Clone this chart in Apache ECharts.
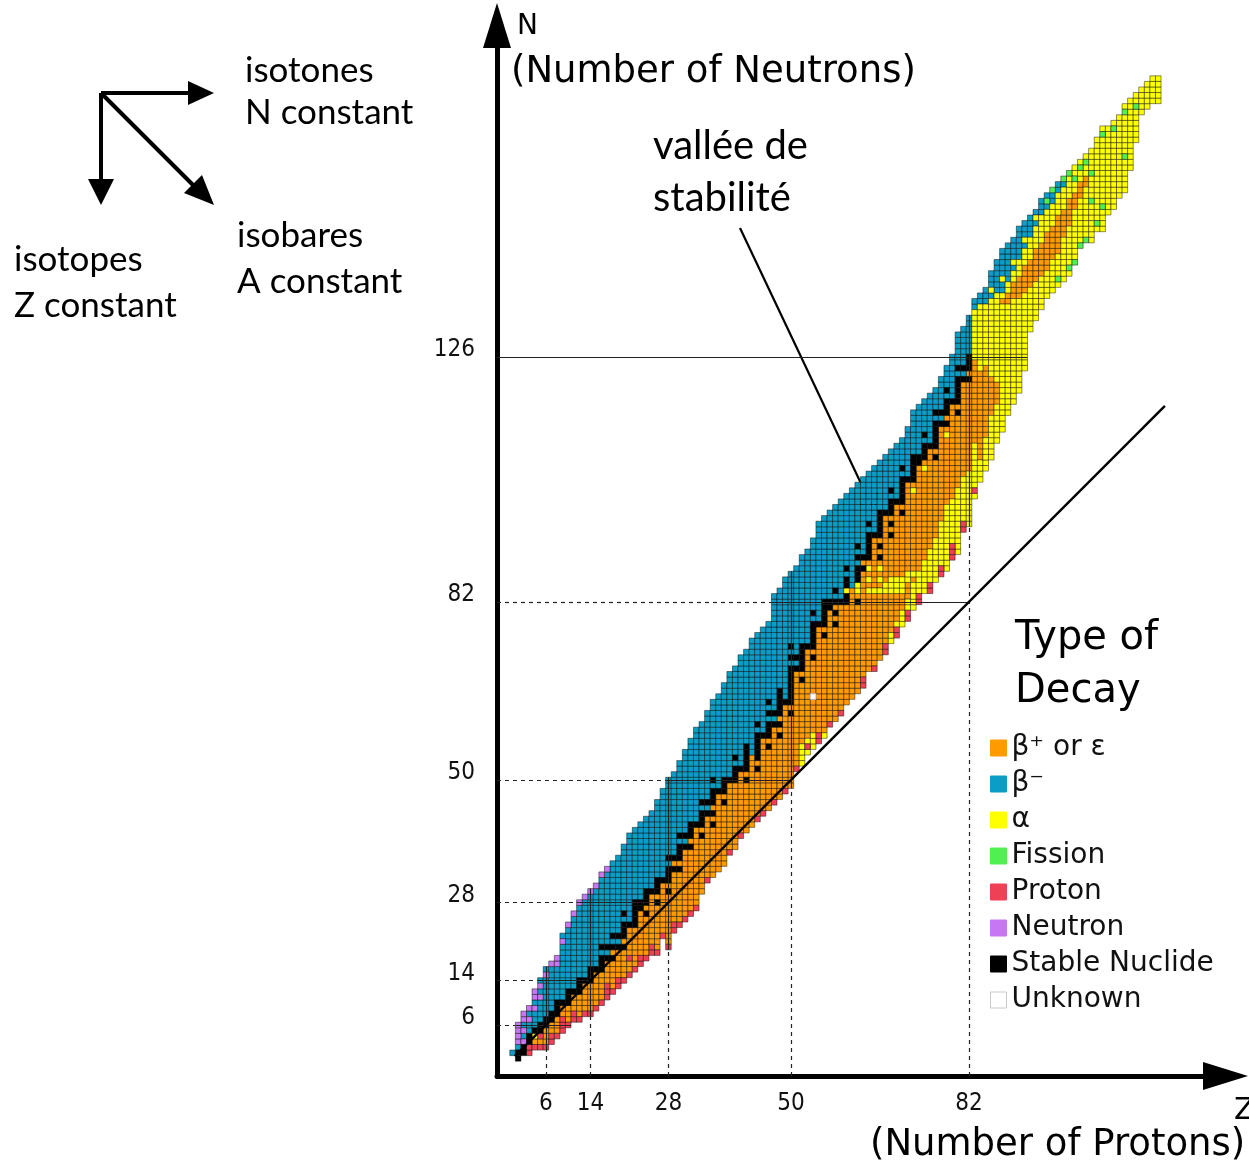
<!DOCTYPE html>
<html>
<head>
<meta charset="utf-8">
<title>Chart of nuclides - type of decay</title>
<script src="https://cdn.jsdelivr.net/npm/echarts@6/dist/echarts.min.js"></script>
<style>
  html, body { margin: 0; padding: 0; background: #fff; }
  #chart { width: 1249px; height: 1162px; }
</style>
</head>
<body>
<div id="chart"></div>
<script>
// tick labels on both axes
const zTicks = [6, 14, 28, 50, 82];
const nTicks = [6, 14, 28, 50, 82, 126];

// decay types, legend order
const decayKeys = ['e', 'b', 'a', 'f', 'p', 'n', 's', 'u'];
const decayNames = ['β⁺ or ε', 'β⁻', 'α', 'Fission', 'Proton', 'Neutron', 'Stable Nuclide', 'Unknown'];

// lowest N drawn for each Z (index = Z)
const firstNeutron = [
  1, 0, 1, 1, 2, 2, 2, 3, 4, 5, 6, 7, 7, 8, 8, 9, 10, 11, 12, 13,
  14, 15, 16, 17, 18, 19, 19, 22, 20, 23, 24, 25, 26, 27, 30, 32, 33, 34, 35, 37,
  38, 40, 41, 42, 43, 44, 45, 46, 47, 48, 49, 52, 53, 55, 56, 57, 58, 60, 61, 62,
  64, 65, 66, 67, 70, 70, 72, 73, 75, 76, 78, 79, 81, 82, 84, 84, 86, 87, 88, 90,
  91, 95, 96, 101, 104, 106, 108, 111, 113, 116, 118, 120, 124, 131, 133, 135, 137, 138, 139, 140,
  141, 143, 146, 147, 147, 149, 149, 152, 153, 155, 156, 160, 165, 170, 171, 172, 172
];

// runs of decay type going up in N from firstNeutron (letter + count)
const decayRunsLight = [ // Z 0-39
  'b1', 's2b1n4', 's2n1b1n1b1n2', 'p2s2b2n1b1n1', 'p1e1a1s1b3n1b1n2',
  'p1e1p1s2b4n1b1n1b1', 'p1e3s2b7n1b1', 'p2e2s2b8n1', 'p1e3s3b6n2', 'p3e2s1b10n1b1',
  'p1e3s3b11n1', 'p2e3s1b13n1', 'p1e4s3b13n1', 'p1e5s1b14n1', 'p1e5s3b13n1',
  'p1e6s1b14n1', 'p1e5s3b1s1b12n1', 'p3e4s1b1s1b13n1', 'p1e5s1e1s1b1s1b13', 'p2e5s1b1s1b14',
  'p1e5s1e1s3b1s1b12', 'p1e2p1e5s1b16', 'p1e7s5b13', 'p2e8s2b14', 'p1e7s1e1s3b13',
  'p2e9s1b14', 'p1e8s1e1s3b14', 'p1e9s1b16', 'p1e9s1e1s3b1s1b14', 'p2e9s1e1s1b15',
  'p1e9s1e1s3b1s1b13', 'p1e12s1b1s1b15', 'p1e11s1e1s3b15', 'p1e14s1b17', 'e10s1e1s3b1s1b14',
  'p1e11s1b1s1b16', 'e9s1e1s1e1s3b1s1b14', 'e14s1b17', 'e11s1e1s3b17', 'p1e12s1b19'
];
const decayRunsMedium = [ // Z 40-79
  'e12s3b1s1b16', 'p1e11s1b20', 'e9s1e1s5b17', 'e13b21', 'p1e8s1e1s5b1s1b16',
  'p1e13s1b19', 'e11s1e1s3b1s1b1s1b14', 'p1e13s1b1s1b21', 'e11s1e1s1e1s5b18', 'p1e15s1b22',
  'e13s1e1s7b1s1b1s1b13', 'p1e17s1b1s1b16', 'a4e11s1e1s5b16', 'a1p1a1e16s1b17', 'a3e13s1e1s5b1s1b13',
  'p2e19s1b18', 'a1e17s1e1s5b15', 'p1e20s2b16', 'e17s1e1s1e1s1b1s1b15', 'p1e19s1b18',
  'e18s2a1s2b1s1b13', 'e20b18', 'e16s1e1a2s3b1s1b1s1b11', 'p2e19s1e1s1b14', 'e14a1e1a1e1a1e1s5b1s1b9',
  'p1e13a1e9s1b12', 'e12a1e1a1e1a1e1s1e1s1e1s5b9', 'p2e9a2e12s1b10', 'a2e7a3e7s1e1s1e1s3b1s1b7', 'p2a1e5a3e13s1b10',
  'a3e3a3e11s1e1s5b1s1b5', 'p2a2e3a2e16s1b9', 'a5e1a1e14a1e1s5b8', 'p2a4e19s2b9', 'a6e16a1e1s3b1s1b6',
  'p2a6e18s1b9', 'a8e14s1e1s5b1s1b4', 'p2a8e17s1b1s1b6', 'a12e12a1e1s1e1s3b1s1b4', 'p3a8e17s1b8'
];
const decayRunsHeavy = [ // Z 80-116
  'a12e13s1e1s5b1s1b6', 'p2a8e17s1b1s1b7', 'a10e16s1e1s3b7', 'a1p1a8e15a9b2', 'a4e16a11b3',
  'a6e13a11b3', 'a8e7a14b5', 'a7e4a16b6', 'a23e1a1b8', 'a20e2a2b7',
  'a19e3a2b6', 'a17e4a3b6', 'a14e5a3b5', 'a8e5a4b4', 'a7e6a4b3',
  'a6e6a5b3', 'a5e7a4b3', 'a6e6a4b3', 'a6e7a4b2', 'a8e5a4b2',
  'a9e5a4b1', 'a10e3a5', 'a9e3a4', 'a10e2a4', 'a12e1a4',
  'a17', 'a19', 'a16', 'a16', 'a15', 'a16', 'a13', 'a9', 'a5', 'a5', 'a5', 'a5'
];

// single cells that break the runs [Z, N]
const fissionCells = [
  [96, 154], [97, 156], [98, 140], [99, 158], [100, 142], [100, 159], [101, 143], [101, 158],
  [102, 146], [102, 160], [103, 147], [103, 161], [104, 154], [104, 159], [105, 150], [106, 153],
  [106, 166], [108, 167], [110, 162], [110, 170], [112, 171]
];
const alphaSpecks = [[84, 135], [86, 138], [88, 140], [90, 143], [92, 147], [94, 151]];
const unknownCells = [[54, 65]];

// magic number guide lines: [value, end of dashed part, end of solid part]
const nMagicLines = [[6, 0.5, 10.5], [14, 4.5, 14], [28, 11.5, 28], [50, 27.5, 50], [82, 46.5, 82], [126, -2.8, 92.5]];
const zMagicLines = [[6, 1.5, 16.5], [14, 7.5, 30.5], [28, 19.5, 50.5], [50, 48.5, 87.5], [82, 95.5, 133.5]];
const diagonalNZ = [0.4, 117.2];

const X_MIN = -2.8, X_MAX = 128.08, Y_MIN = -3.16, Y_MAX = 185.54;

const palette = {
  e: '#ff9a00', b: '#0a9ec7', a: '#ffff00', f: '#50f050',
  p: '#ef4055', n: '#c877f2', s: '#000000', u: '#ffffff'
};

// expand the runs into cells
const override = new Map();
fissionCells.forEach(([z, n]) => override.set(z + ':' + n, 'f'));
alphaSpecks.forEach(([z, n]) => override.set(z + ':' + n, 'a'));
unknownCells.forEach(([z, n]) => override.set(z + ':' + n, 'u'));

const cells = {};
decayKeys.forEach(k => { cells[k] = []; });
const decayRuns = decayRunsLight.concat(decayRunsMedium, decayRunsHeavy);
decayRuns.forEach((runs, z) => {
  let n = firstNeutron[z];
  runs.match(/[a-z]\d+/g).forEach(tok => {
    const type = tok[0];
    const count = parseInt(tok.slice(1), 10);
    for (let i = 0; i < count; i++, n++) {
      const k = override.get(z + ':' + n) || type;
      cells[k].push([z, n]);
    }
  });
});

const dashedSegs = [], solidSegs = [];
nMagicLines.forEach(([n, dashTo, solidTo]) => {
  if (dashTo > X_MIN) dashedSegs.push({ coords: [[X_MIN, n], [dashTo, n]] });
  solidSegs.push({ coords: [[dashTo, n], [solidTo, n]] });
});
zMagicLines.forEach(([z, dashTo, solidTo]) => {
  dashedSegs.push({ coords: [[z, Y_MIN], [z, dashTo]] });
  solidSegs.push({ coords: [[z, dashTo], [z, solidTo]] });
});

const chart = echarts.init(document.getElementById('chart'));

const cellSeries = decayKeys.map((k, i) => ({
  name: decayNames[i],
  type: 'custom',
  coordinateSystem: 'cartesian2d',
  data: cells[k],
  encode: { x: 0, y: 1 },
  silent: true,
  progressive: 0,
  itemStyle: { color: palette[k] },
  renderItem: function (params, api) {
    const p = api.coord([api.value(0) - 0.5, api.value(1) + 0.5]);
    const s = api.size([1, 1]);
    return {
      type: 'rect',
      shape: { x: p[0], y: p[1], width: s[0], height: s[1] },
      style: { fill: palette[k], stroke: k === 'u' ? '#bbbbbb' : 'rgba(0,0,0,0.5)', lineWidth: 0.9 }
    };
  }
}));

const labelFont = '"DejaVu Sans Condensed", "Liberation Sans Narrow", "DejaVu Sans", sans-serif';
const textFont = 'DejaVu Sans';
const noteFont = 'Lato';

function txt(x, y, text, size, family) {
  return {
    type: 'text', x: x, y: y, silent: true,
    style: { text: text, fontSize: size, fontFamily: family, fill: '#000', align: 'left', verticalAlign: 'middle' }
  };
}
function seg(x1, y1, x2, y2, w) {
  return { type: 'line', silent: true, shape: { x1: x1, y1: y1, x2: x2, y2: y2 }, style: { stroke: '#000', lineWidth: w } };
}
function tri(points) {
  return { type: 'polygon', silent: true, shape: { points: points }, style: { fill: '#000' } };
}

const option = {
  animation: false,
  backgroundColor: '#ffffff',
  grid: { left: 497, right: 23.5, top: 25.5, bottom: 86, containLabel: false, outerBoundsMode: 'none' },
  xAxis: {
    type: 'value', min: X_MIN, max: X_MAX,
    axisLine: { show: true, onZero: false, symbol: ['none', 'triangle'], symbolSize: [28, 45],
      lineStyle: { color: '#000', width: 5 } },
    axisTick: { show: false },
    splitLine: { show: false },
    axisLabel: { customValues: zTicks, margin: 16, fontSize: 24, fontFamily: labelFont, color: '#111' }
  },
  yAxis: {
    type: 'value', min: Y_MIN, max: Y_MAX,
    axisLine: { show: true, onZero: false, symbol: ['none', 'triangle'], symbolSize: [28, 45],
      lineStyle: { color: '#000', width: 5 } },
    axisTick: { show: false },
    splitLine: { show: false },
    axisLabel: { customValues: nTicks, margin: 22, fontSize: 24, lineHeight: 14, fontFamily: labelFont,
      color: '#111', verticalAlign: 'bottom' }
  },
  legend: {
    orient: 'vertical', left: 990, top: 734, padding: 0,
    itemWidth: 16, itemHeight: 16, itemGap: 8, selectedMode: false,
    textStyle: { fontSize: 28, lineHeight: 28, fontFamily: textFont, color: '#111' },
    data: decayKeys.map((k, i) => ({
      name: decayNames[i], icon: 'rect',
      itemStyle: { color: palette[k], borderColor: k === 'u' ? '#c8c8c8' : palette[k], borderWidth: 1 }
    }))
  },
  graphic: [
    txt(517, 27, 'N', 28, textFont),
    txt(511, 72, '(Number of Neutrons)', 37, textFont),
    txt(1234, 1111, 'Z', 30, textFont),
    txt(870, 1145, '(Number of Protons)', 37, textFont),
    txt(1015, 639, 'Type of', 40, textFont),
    txt(1015, 692, 'Decay', 40, textFont),
    txt(653, 146, 'vallée de', 40, noteFont),
    txt(653, 198, 'stabilité', 40, noteFont),
    txt(245, 71, 'isotones', 35, noteFont),
    txt(245, 113, 'N constant', 35, noteFont),
    txt(237, 236, 'isobares', 35, noteFont),
    txt(237, 282, 'A constant', 35, noteFont),
    txt(14, 260, 'isotopes', 35, noteFont),
    txt(14, 306, 'Z constant', 35, noteFont),
    // the little direction sketch
    seg(101, 93, 190, 93, 4),
    tri([[214, 93], [188, 81], [188, 105]]),
    seg(101, 93, 101, 182, 4),
    tri([[101, 205], [88, 179], [114, 179]]),
    seg(101, 93, 196, 188, 4),
    tri([[214, 205], [184, 193], [202, 175]]),
    // arrow pointing at the valley of stability
    seg(740, 228, 875, 513, 2.2),
    seg(875, 513, 858, 502, 2.2),
    seg(875, 513, 877, 493, 2.2)
  ],
  series: cellSeries.concat([
    {
      type: 'lines', coordinateSystem: 'cartesian2d', silent: true, z: 5,
      data: dashedSegs,
      lineStyle: { color: '#222', width: 1.2, type: [4, 4], opacity: 1, curveness: 0 }
    },
    {
      type: 'lines', coordinateSystem: 'cartesian2d', silent: true, z: 5,
      data: solidSegs,
      lineStyle: { color: '#222', width: 1.2, type: 'solid', opacity: 1, curveness: 0 }
    },
    {
      type: 'lines', coordinateSystem: 'cartesian2d', silent: true, z: 6,
      data: [{ coords: [[diagonalNZ[0], diagonalNZ[0]], [diagonalNZ[1], diagonalNZ[1]]] }],
      lineStyle: { color: '#000', width: 2.4, type: 'solid', opacity: 1, curveness: 0 }
    }
  ])
};

chart.setOption(option);
window.addEventListener('resize', chart.resize);
</script>
</body>
</html>
